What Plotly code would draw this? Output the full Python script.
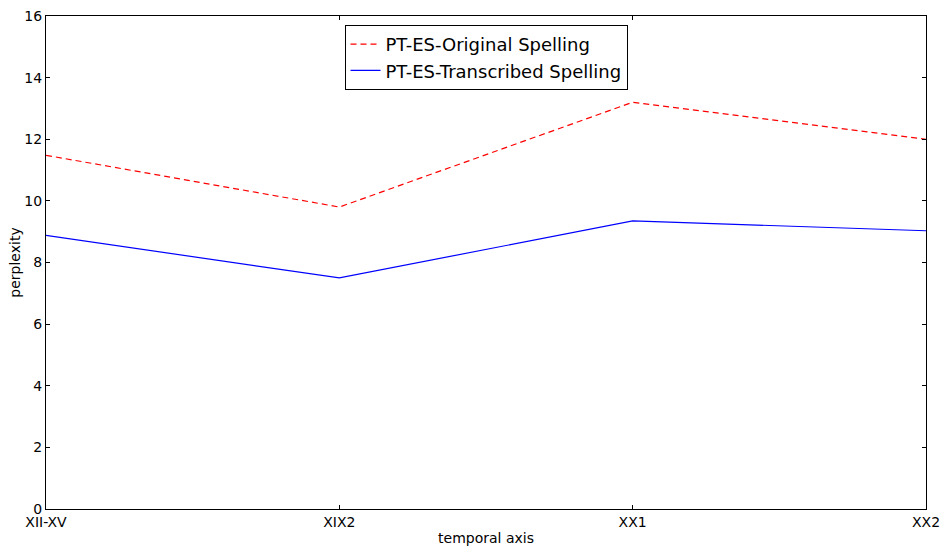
import plotly.graph_objects as go

# Perplexity across time periods for the two spelling variants
periods = ["XII-XV", "XIX2", "XX1", "XX2"]
original_spelling = [11.48, 9.8, 13.2, 12.0]
transcribed_spelling = [8.88, 7.5, 9.35, 9.03]

font_family = "DejaVu Sans, sans-serif"

fig = go.Figure()
fig.add_trace(go.Scatter(
    x=periods, y=original_spelling, mode="lines",
    name="PT-ES-Original Spelling",
    line=dict(color="#ff0000", width=1.2, dash="6px,4px"),
))
fig.add_trace(go.Scatter(
    x=periods, y=transcribed_spelling, mode="lines",
    name="PT-ES-Transcribed Spelling",
    line=dict(color="#0000ff", width=1.2),
))

axis_common = dict(
    showline=True, linecolor="black", linewidth=1.3, mirror="ticks",
    ticks="inside", ticklen=4, tickcolor="black", tickwidth=1,
    showgrid=False, zeroline=False, automargin=False,
    tickfont=dict(family=font_family, size=14, color="black"),
)

fig.update_layout(
    width=942, height=546,
    margin=dict(l=46, r=16, t=16, b=37),
    paper_bgcolor="white", plot_bgcolor="white",
    font=dict(family=font_family, color="black"),
    xaxis=dict(
        **axis_common,
        type="category", range=[0, 3],
        title=dict(text="temporal axis", font=dict(size=14), standoff=4),
    ),
    yaxis=dict(
        **axis_common,
        range=[0, 16], dtick=2,
        title=dict(text="perplexity", font=dict(size=14), standoff=0),
    ),
    legend=dict(
        x=0.5, y=0.982, xanchor="center", yanchor="top",
        bordercolor="black", borderwidth=1, bgcolor="white",
        font=dict(family=font_family, size=18),
        tracegroupgap=0,
    ),
    showlegend=True,
)

fig.write_html("out.html")
